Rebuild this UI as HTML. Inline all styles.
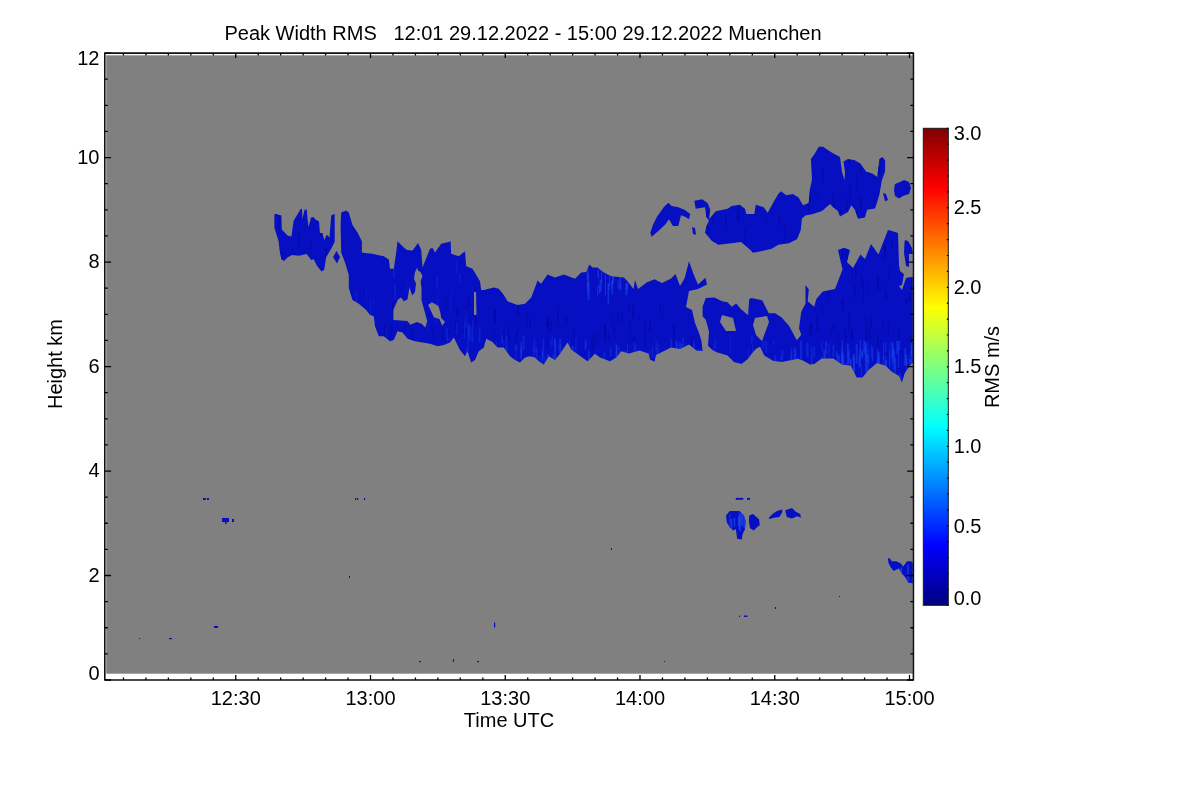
<!DOCTYPE html>
<html><head><meta charset="utf-8"><title>Peak Width RMS</title>
<style>html,body{margin:0;padding:0;background:#fff;width:1200px;height:800px;overflow:hidden}svg{display:block;will-change:transform}</style>
</head><body><svg width="1200" height="800" viewBox="0 0 1200 800"><rect x="106.2" y="55.3" width="806.5999999999999" height="618.4000000000001" fill="#808080"/><g fill="#0610c2"><path fill-rule="evenodd" d="M274.4,214.6L275.7,213.7L281.4,215.5L281.8,229.5L287.5,235.6L291.4,236.5L293.6,220.7L298.9,212.0L300.6,208.9L302.0,208.9L302.4,219.0L304.6,209.8L306.7,209.4L307.6,219.0L308.5,226.9L311.1,217.2L313.7,217.2L315.5,219.4L319.0,221.6L319.9,233.0L322.5,233.0L324.2,240.0L326.9,234.7L329.5,237.4L331.2,215.5L334.7,213.7L334.7,241.7L331.2,248.7L326.0,257.5L324.2,269.7L321.6,271.5L317.2,266.2L313.7,259.2L311.1,260.1L306.7,254.0L298.9,255.7L291.9,254.9L287.5,257.5L284.0,261.0L281.4,259.2L279.6,250.5L278.7,241.7L274.4,227.7ZM336.5,251.0L340.0,257.0L337.0,263.6L333.0,257.0ZM341.2,212.5L346.2,210.6L348.8,212.5L352.5,225.0L357.5,232.5L361.9,241.2L361.9,252.5L365.0,253.0L372.5,253.8L377.5,255.0L383.8,256.2L388.8,259.4L390.0,268.8L393.8,268.8L396.2,252.5L397.5,241.2L403.8,247.5L406.9,250.0L412.5,250.6L418.1,243.1L421.2,250.0L422.5,267.5L425.0,261.2L430.0,248.8L432.5,248.0L435.0,252.5L441.2,243.8L448.8,241.9L450.6,241.2L451.2,253.8L458.8,256.2L465.0,251.2L466.2,266.2L472.5,268.8L480.0,281.2L481.2,290.0L483.8,290.0L493.8,287.5L498.8,288.8L503.8,295.0L507.5,301.2L517.5,305.0L525.0,303.8L531.2,297.5L535.0,287.5L537.5,280.6L541.2,283.8L547.5,274.4L555.0,277.5L563.8,274.4L575.0,278.8L581.2,272.5L586.2,271.9L589.4,264.4L592.5,267.5L597.5,267.5L603.8,272.5L611.2,276.2L623.8,277.5L627.5,281.2L633.5,289.0L635.0,280.0L638.0,289.0L647.0,282.2L654.5,279.2L662.0,283.0L671.0,278.5L675.5,274.0L680.0,286.0L684.5,278.5L689.0,261.2L693.5,274.0L698.0,284.5L705.5,277.8L707.0,284.5L698.0,289.0L689.0,291.0L686.0,307.0L692.0,310.0L695.0,323.0L699.3,333.8L701.5,341.3L702.6,351.0L696.5,350.5L689.0,344.5L680.0,349.0L671.0,347.5L662.0,352.0L656.0,355.0L654.5,361.8L650.0,359.5L648.5,353.5L639.5,350.5L629.0,353.5L621.2,351.2L616.2,357.5L610.0,361.2L600.0,357.5L595.0,353.8L587.5,361.2L578.8,355.0L571.2,349.4L567.5,342.5L560.0,353.8L555.0,360.0L548.8,356.2L543.8,364.4L538.8,361.2L535.0,357.5L530.0,356.2L525.0,357.5L520.0,362.5L515.0,360.0L510.0,356.2L503.8,347.5L497.5,347.5L492.5,341.9L486.2,338.8L483.8,347.5L478.8,351.2L475.0,360.0L471.2,362.5L467.5,351.2L465.0,356.2L460.0,350.0L453.8,337.5L450.0,342.5L443.8,345.0L437.5,346.2L430.0,343.8L415.0,341.2L407.5,338.8L402.5,332.5L397.5,331.2L393.8,340.0L390.0,341.2L383.8,336.2L378.8,336.2L375.0,326.2L373.8,316.2L370.0,315.0L366.2,310.0L358.8,303.8L352.5,300.0L349.4,290.0L348.8,287.5L348.8,275.0L345.0,262.5L341.2,252.5L340.6,225.0ZM417.3,267.5L415.0,272.2L414.0,278.8L416.0,283.4L415.0,291.9L412.2,295.6L409.4,287.2L407.5,299.4L403.8,301.2L401.0,297.5L398.0,299.4L393.4,309.7L393.4,320.0L407.5,321.0L410.3,324.7L416.9,321.9L421.5,323.8L425.3,327.5L427.2,321.0L424.4,310.6L421.5,300.3L421.5,288.1L420.6,281.6L422.5,276.0L420.6,272.2L417.8,270.3ZM431.9,302.2L438.4,306.0L440.3,312.5L441.2,318.1L445.0,321.9L442.2,325.6L439.4,319.0L433.8,317.2L430.0,308.8L428.1,305.0ZM474.0,292.0L476.0,292.0L476.5,315.0L474.0,315.0ZM702.6,306.7L705.8,298.0L714.5,297.5L722.1,301.2L727.5,302.3L731.8,306.7L736.2,303.4L740.5,308.8L748.1,315.3L749.2,299.1L751.3,298.0L762.2,300.2L768.7,313.2L775.2,313.2L781.7,317.5L789.3,326.2L796.8,340.2L801.2,334.8L799.0,328.3L801.2,312.1L805.5,303.4L805.5,285.0L808.8,289.3L807.7,301.2L814.2,306.7L816.3,299.1L822.8,291.5L835.0,289.0L842.5,269.5L838.0,250.0L844.0,247.8L850.0,250.0L847.0,262.0L853.0,268.0L860.5,254.5L865.0,259.0L871.0,244.0L878.5,254.5L888.0,230.0L892.0,231.0L898.0,233.0L899.0,265.0L900.0,271.0L904.0,274.0L902.0,285.0L899.0,286.0L902.0,290.0L906.0,278.0L911.0,277.0L912.8,277.0L912.8,363.0L910.6,364.4L904.8,373.0L901.9,382.6L899.0,376.0L891.7,371.7L885.8,365.8L877.0,363.0L868.3,370.2L862.5,377.5L856.7,377.5L850.8,365.8L842.0,364.4L833.3,358.5L821.7,358.5L814.2,364.0L810.0,364.4L803.3,360.8L798.0,358.7L781.7,361.9L773.0,360.8L764.3,355.4L760.0,346.8L755.7,348.9L751.3,354.3L748.1,358.7L741.6,364.1L734.0,361.9L727.5,355.4L716.7,352.2L712.3,350.0L708.0,345.7L709.0,331.6L705.8,319.7L702.6,316.4ZM722.0,315.0L733.0,318.0L736.0,331.0L726.0,331.0L720.0,322.0ZM755.0,318.0L767.0,316.0L769.0,322.0L762.0,341.0L756.0,335.0L753.0,325.0ZM694.3,200.7L702.3,199.3L707.7,203.3L710.3,210.0L709.0,219.3L715.7,211.3L727.7,208.7L731.7,206.0L739.7,204.7L745.0,208.7L746.3,214.0L754.3,214.0L755.7,204.7L763.7,207.3L767.7,212.7L774.3,200.7L778.3,194.0L781.0,191.3L786.3,195.3L792.9,194.0L798.5,197.4L803.0,205.2L808.6,203.0L809.7,190.6L812.0,179.4L810.9,159.0L814.2,154.6L818.8,146.8L823.2,146.8L827.8,150.1L833.4,153.5L840.0,156.9L842.0,172.0L844.5,180.0L845.0,172.0L843.5,161.4L848.0,159.1L854.8,160.2L860.4,163.6L866.0,171.5L872.8,173.8L877.2,177.1L879.5,159.1L882.3,156.9L885.1,160.2L885.1,171.5L881.8,180.5L879.5,194.0L877.2,201.9L875.0,208.6L867.1,209.8L864.9,217.6L858.1,218.8L854.8,209.8L851.4,205.2L848.0,212.0L840.0,216.5L837.9,210.9L833.4,207.5L830.0,204.1L822.1,210.9L812.0,214.2L805.2,215.4L801.9,218.8L800.8,230.0L797.0,239.3L789.0,243.3L778.3,244.7L771.7,248.7L761.0,251.3L753.0,252.7L749.0,248.7L741.0,242.0L731.7,243.3L718.3,244.7L711.7,240.7L705.0,232.7L706.3,226.0L709.0,220.7L706.3,216.7L705.0,207.3L695.7,208.7ZM650.3,232.7L653.0,224.7L657.0,216.7L663.7,207.3L668.3,202.7L671.7,206.0L678.3,207.3L685.0,210.0L690.3,214.0L689.0,219.3L685.0,216.7L681.0,215.3L678.3,226.0L673.0,226.0L669.0,219.3L665.0,224.7L658.3,231.0L651.7,236.7ZM904.5,242.0L905.0,240.0L908.0,241.0L912.0,248.0L912.8,254.0L909.0,254.0L909.0,267.0L906.0,266.0L904.0,253.0ZM692.0,227.0L695.0,228.0L696.0,234.7L693.0,234.0ZM883.0,193.0L886.0,194.0L888.0,200.0L885.0,201.3ZM895.0,184.0L900.0,182.0L904.0,180.0L909.0,182.0L911.0,188.0L909.0,194.0L903.0,196.0L899.0,198.5L895.0,196.0L894.0,190.0ZM726.0,515.5L729.8,511.0L739.5,511.0L744.0,515.5L745.9,521.5L744.8,529.8L742.5,534.2L741.8,539.5L737.2,538.8L735.8,529.0L733.5,530.5L729.8,527.5L726.8,522.2ZM749.2,515.5L753.0,514.0L759.0,519.2L759.8,525.2L757.5,526.8L753.8,530.5L750.0,528.2L748.9,521.5ZM768.8,517.8L772.5,514.0L777.0,511.0L782.2,509.5L782.2,512.5L779.2,517.0L774.0,517.8L769.5,518.9ZM785.2,510.2L792.0,508.0L795.8,511.8L800.2,514.0L801.0,517.8L797.2,516.2L792.0,518.5L786.8,517.0ZM887.9,558.5L889.6,558.2L891.9,561.3L896.4,561.3L900.9,563.6L903.1,566.4L907.1,561.3L911.0,561.3L912.8,563.0L912.8,583.2L908.2,582.7L905.4,577.6L902.0,573.7L898.6,568.6L893.6,570.9L890.8,567.5L888.5,563.0Z"/><rect x="203" y="498" width="3" height="2"/><rect x="207" y="498" width="2" height="2"/><rect x="222" y="518" width="7" height="4"/><rect x="232" y="519" width="2" height="3"/><rect x="225" y="522" width="1.5" height="2"/><rect x="139" y="638" width="1" height="1"/><rect x="169" y="638" width="3" height="1.2"/><rect x="214" y="626" width="4" height="2"/><rect x="355" y="498" width="1.2" height="2"/><rect x="357" y="498" width="1.2" height="2"/><rect x="364" y="498" width="1.2" height="2"/><rect x="349" y="576" width="1" height="2"/><rect x="494" y="622.5" width="1.2" height="5"/><rect x="419" y="661" width="2" height="1.2"/><rect x="453" y="659" width="1" height="3"/><rect x="477" y="661" width="2" height="1.2"/><rect x="611" y="548" width="1" height="2"/><rect x="664" y="661" width="1" height="1"/><rect x="739" y="615.5" width="1" height="1.5"/><rect x="744" y="615.5" width="3.5" height="1.5"/><rect x="775" y="607" width="1" height="2"/><rect x="839" y="596" width="1" height="1"/><rect x="735.75" y="497.9" width="7.5" height="1.9"/><rect x="747" y="497.9" width="3" height="1.9"/></g><defs><clipPath id="bc"><path clip-rule="evenodd" d="M274.4,214.6L275.7,213.7L281.4,215.5L281.8,229.5L287.5,235.6L291.4,236.5L293.6,220.7L298.9,212.0L300.6,208.9L302.0,208.9L302.4,219.0L304.6,209.8L306.7,209.4L307.6,219.0L308.5,226.9L311.1,217.2L313.7,217.2L315.5,219.4L319.0,221.6L319.9,233.0L322.5,233.0L324.2,240.0L326.9,234.7L329.5,237.4L331.2,215.5L334.7,213.7L334.7,241.7L331.2,248.7L326.0,257.5L324.2,269.7L321.6,271.5L317.2,266.2L313.7,259.2L311.1,260.1L306.7,254.0L298.9,255.7L291.9,254.9L287.5,257.5L284.0,261.0L281.4,259.2L279.6,250.5L278.7,241.7L274.4,227.7ZM336.5,251.0L340.0,257.0L337.0,263.6L333.0,257.0ZM341.2,212.5L346.2,210.6L348.8,212.5L352.5,225.0L357.5,232.5L361.9,241.2L361.9,252.5L365.0,253.0L372.5,253.8L377.5,255.0L383.8,256.2L388.8,259.4L390.0,268.8L393.8,268.8L396.2,252.5L397.5,241.2L403.8,247.5L406.9,250.0L412.5,250.6L418.1,243.1L421.2,250.0L422.5,267.5L425.0,261.2L430.0,248.8L432.5,248.0L435.0,252.5L441.2,243.8L448.8,241.9L450.6,241.2L451.2,253.8L458.8,256.2L465.0,251.2L466.2,266.2L472.5,268.8L480.0,281.2L481.2,290.0L483.8,290.0L493.8,287.5L498.8,288.8L503.8,295.0L507.5,301.2L517.5,305.0L525.0,303.8L531.2,297.5L535.0,287.5L537.5,280.6L541.2,283.8L547.5,274.4L555.0,277.5L563.8,274.4L575.0,278.8L581.2,272.5L586.2,271.9L589.4,264.4L592.5,267.5L597.5,267.5L603.8,272.5L611.2,276.2L623.8,277.5L627.5,281.2L633.5,289.0L635.0,280.0L638.0,289.0L647.0,282.2L654.5,279.2L662.0,283.0L671.0,278.5L675.5,274.0L680.0,286.0L684.5,278.5L689.0,261.2L693.5,274.0L698.0,284.5L705.5,277.8L707.0,284.5L698.0,289.0L689.0,291.0L686.0,307.0L692.0,310.0L695.0,323.0L699.3,333.8L701.5,341.3L702.6,351.0L696.5,350.5L689.0,344.5L680.0,349.0L671.0,347.5L662.0,352.0L656.0,355.0L654.5,361.8L650.0,359.5L648.5,353.5L639.5,350.5L629.0,353.5L621.2,351.2L616.2,357.5L610.0,361.2L600.0,357.5L595.0,353.8L587.5,361.2L578.8,355.0L571.2,349.4L567.5,342.5L560.0,353.8L555.0,360.0L548.8,356.2L543.8,364.4L538.8,361.2L535.0,357.5L530.0,356.2L525.0,357.5L520.0,362.5L515.0,360.0L510.0,356.2L503.8,347.5L497.5,347.5L492.5,341.9L486.2,338.8L483.8,347.5L478.8,351.2L475.0,360.0L471.2,362.5L467.5,351.2L465.0,356.2L460.0,350.0L453.8,337.5L450.0,342.5L443.8,345.0L437.5,346.2L430.0,343.8L415.0,341.2L407.5,338.8L402.5,332.5L397.5,331.2L393.8,340.0L390.0,341.2L383.8,336.2L378.8,336.2L375.0,326.2L373.8,316.2L370.0,315.0L366.2,310.0L358.8,303.8L352.5,300.0L349.4,290.0L348.8,287.5L348.8,275.0L345.0,262.5L341.2,252.5L340.6,225.0ZM417.3,267.5L415.0,272.2L414.0,278.8L416.0,283.4L415.0,291.9L412.2,295.6L409.4,287.2L407.5,299.4L403.8,301.2L401.0,297.5L398.0,299.4L393.4,309.7L393.4,320.0L407.5,321.0L410.3,324.7L416.9,321.9L421.5,323.8L425.3,327.5L427.2,321.0L424.4,310.6L421.5,300.3L421.5,288.1L420.6,281.6L422.5,276.0L420.6,272.2L417.8,270.3ZM431.9,302.2L438.4,306.0L440.3,312.5L441.2,318.1L445.0,321.9L442.2,325.6L439.4,319.0L433.8,317.2L430.0,308.8L428.1,305.0ZM474.0,292.0L476.0,292.0L476.5,315.0L474.0,315.0ZM702.6,306.7L705.8,298.0L714.5,297.5L722.1,301.2L727.5,302.3L731.8,306.7L736.2,303.4L740.5,308.8L748.1,315.3L749.2,299.1L751.3,298.0L762.2,300.2L768.7,313.2L775.2,313.2L781.7,317.5L789.3,326.2L796.8,340.2L801.2,334.8L799.0,328.3L801.2,312.1L805.5,303.4L805.5,285.0L808.8,289.3L807.7,301.2L814.2,306.7L816.3,299.1L822.8,291.5L835.0,289.0L842.5,269.5L838.0,250.0L844.0,247.8L850.0,250.0L847.0,262.0L853.0,268.0L860.5,254.5L865.0,259.0L871.0,244.0L878.5,254.5L888.0,230.0L892.0,231.0L898.0,233.0L899.0,265.0L900.0,271.0L904.0,274.0L902.0,285.0L899.0,286.0L902.0,290.0L906.0,278.0L911.0,277.0L912.8,277.0L912.8,363.0L910.6,364.4L904.8,373.0L901.9,382.6L899.0,376.0L891.7,371.7L885.8,365.8L877.0,363.0L868.3,370.2L862.5,377.5L856.7,377.5L850.8,365.8L842.0,364.4L833.3,358.5L821.7,358.5L814.2,364.0L810.0,364.4L803.3,360.8L798.0,358.7L781.7,361.9L773.0,360.8L764.3,355.4L760.0,346.8L755.7,348.9L751.3,354.3L748.1,358.7L741.6,364.1L734.0,361.9L727.5,355.4L716.7,352.2L712.3,350.0L708.0,345.7L709.0,331.6L705.8,319.7L702.6,316.4ZM722.0,315.0L733.0,318.0L736.0,331.0L726.0,331.0L720.0,322.0ZM755.0,318.0L767.0,316.0L769.0,322.0L762.0,341.0L756.0,335.0L753.0,325.0ZM694.3,200.7L702.3,199.3L707.7,203.3L710.3,210.0L709.0,219.3L715.7,211.3L727.7,208.7L731.7,206.0L739.7,204.7L745.0,208.7L746.3,214.0L754.3,214.0L755.7,204.7L763.7,207.3L767.7,212.7L774.3,200.7L778.3,194.0L781.0,191.3L786.3,195.3L792.9,194.0L798.5,197.4L803.0,205.2L808.6,203.0L809.7,190.6L812.0,179.4L810.9,159.0L814.2,154.6L818.8,146.8L823.2,146.8L827.8,150.1L833.4,153.5L840.0,156.9L842.0,172.0L844.5,180.0L845.0,172.0L843.5,161.4L848.0,159.1L854.8,160.2L860.4,163.6L866.0,171.5L872.8,173.8L877.2,177.1L879.5,159.1L882.3,156.9L885.1,160.2L885.1,171.5L881.8,180.5L879.5,194.0L877.2,201.9L875.0,208.6L867.1,209.8L864.9,217.6L858.1,218.8L854.8,209.8L851.4,205.2L848.0,212.0L840.0,216.5L837.9,210.9L833.4,207.5L830.0,204.1L822.1,210.9L812.0,214.2L805.2,215.4L801.9,218.8L800.8,230.0L797.0,239.3L789.0,243.3L778.3,244.7L771.7,248.7L761.0,251.3L753.0,252.7L749.0,248.7L741.0,242.0L731.7,243.3L718.3,244.7L711.7,240.7L705.0,232.7L706.3,226.0L709.0,220.7L706.3,216.7L705.0,207.3L695.7,208.7ZM650.3,232.7L653.0,224.7L657.0,216.7L663.7,207.3L668.3,202.7L671.7,206.0L678.3,207.3L685.0,210.0L690.3,214.0L689.0,219.3L685.0,216.7L681.0,215.3L678.3,226.0L673.0,226.0L669.0,219.3L665.0,224.7L658.3,231.0L651.7,236.7ZM904.5,242.0L905.0,240.0L908.0,241.0L912.0,248.0L912.8,254.0L909.0,254.0L909.0,267.0L906.0,266.0L904.0,253.0ZM692.0,227.0L695.0,228.0L696.0,234.7L693.0,234.0ZM883.0,193.0L886.0,194.0L888.0,200.0L885.0,201.3ZM895.0,184.0L900.0,182.0L904.0,180.0L909.0,182.0L911.0,188.0L909.0,194.0L903.0,196.0L899.0,198.5L895.0,196.0L894.0,190.0ZM726.0,515.5L729.8,511.0L739.5,511.0L744.0,515.5L745.9,521.5L744.8,529.8L742.5,534.2L741.8,539.5L737.2,538.8L735.8,529.0L733.5,530.5L729.8,527.5L726.8,522.2ZM749.2,515.5L753.0,514.0L759.0,519.2L759.8,525.2L757.5,526.8L753.8,530.5L750.0,528.2L748.9,521.5ZM768.8,517.8L772.5,514.0L777.0,511.0L782.2,509.5L782.2,512.5L779.2,517.0L774.0,517.8L769.5,518.9ZM785.2,510.2L792.0,508.0L795.8,511.8L800.2,514.0L801.0,517.8L797.2,516.2L792.0,518.5L786.8,517.0ZM887.9,558.5L889.6,558.2L891.9,561.3L896.4,561.3L900.9,563.6L903.1,566.4L907.1,561.3L911.0,561.3L912.8,563.0L912.8,583.2L908.2,582.7L905.4,577.6L902.0,573.7L898.6,568.6L893.6,570.9L890.8,567.5L888.5,563.0Z"/></clipPath></defs><g clip-path="url(#bc)"><rect x="756.3" y="181.0" width="2" height="11.7" fill="#00008a" fill-opacity="0.35"/><rect x="876.4" y="223.3" width="2" height="16.6" fill="#00008a" fill-opacity="0.35"/><rect x="706.4" y="211.6" width="1.5" height="6.9" fill="#00008a" fill-opacity="0.35"/><rect x="779.4" y="154.8" width="1.5" height="9.7" fill="#00008a" fill-opacity="0.35"/><rect x="743.2" y="152.2" width="1" height="13.5" fill="#00008a" fill-opacity="0.35"/><rect x="807.8" y="202.3" width="2" height="8.9" fill="#00008a" fill-opacity="0.35"/><rect x="742.6" y="208.9" width="1" height="12.6" fill="#00008a" fill-opacity="0.35"/><rect x="769.6" y="165.9" width="1" height="15.8" fill="#00008a" fill-opacity="0.35"/><rect x="878.0" y="164.9" width="1" height="8.2" fill="#00008a" fill-opacity="0.35"/><rect x="712.1" y="216.5" width="1.5" height="6.9" fill="#00008a" fill-opacity="0.35"/><rect x="776.4" y="151.1" width="2" height="8.4" fill="#00008a" fill-opacity="0.35"/><rect x="856.0" y="209.5" width="2" height="16.6" fill="#00008a" fill-opacity="0.35"/><rect x="784.3" y="223.4" width="1" height="17.2" fill="#00008a" fill-opacity="0.35"/><rect x="731.4" y="156.2" width="1" height="5.0" fill="#00008a" fill-opacity="0.35"/><rect x="777.1" y="155.8" width="1" height="8.1" fill="#00008a" fill-opacity="0.35"/><rect x="702.3" y="244.1" width="1" height="12.2" fill="#00008a" fill-opacity="0.35"/><rect x="778.5" y="214.3" width="2" height="11.7" fill="#00008a" fill-opacity="0.35"/><rect x="821.9" y="167.5" width="1.5" height="15.6" fill="#00008a" fill-opacity="0.35"/><rect x="712.1" y="249.4" width="2" height="13.1" fill="#00008a" fill-opacity="0.35"/><rect x="848.8" y="150.6" width="1.5" height="14.3" fill="#00008a" fill-opacity="0.35"/><rect x="841.6" y="224.2" width="1.5" height="11.0" fill="#00008a" fill-opacity="0.35"/><rect x="733.3" y="176.1" width="2" height="18.0" fill="#00008a" fill-opacity="0.35"/><rect x="707.4" y="225.0" width="2" height="9.4" fill="#00008a" fill-opacity="0.35"/><rect x="879.1" y="155.3" width="2" height="8.4" fill="#00008a" fill-opacity="0.35"/><rect x="805.2" y="228.8" width="2" height="10.7" fill="#00008a" fill-opacity="0.35"/><rect x="884.7" y="242.9" width="1" height="8.8" fill="#00008a" fill-opacity="0.35"/><rect x="716.2" y="167.0" width="1" height="11.6" fill="#00008a" fill-opacity="0.35"/><rect x="859.9" y="165.9" width="1.5" height="7.6" fill="#00008a" fill-opacity="0.35"/><rect x="736.5" y="210.1" width="1.5" height="10.1" fill="#00008a" fill-opacity="0.35"/><rect x="872.4" y="219.3" width="2" height="13.2" fill="#00008a" fill-opacity="0.35"/><rect x="859.9" y="197.2" width="2" height="12.0" fill="#00008a" fill-opacity="0.35"/><rect x="832.5" y="193.7" width="2" height="16.1" fill="#00008a" fill-opacity="0.35"/><rect x="744.4" y="228.9" width="1.5" height="16.5" fill="#00008a" fill-opacity="0.35"/><rect x="818.3" y="241.1" width="1" height="6.0" fill="#00008a" fill-opacity="0.35"/><rect x="706.3" y="212.2" width="1" height="6.5" fill="#00008a" fill-opacity="0.35"/><rect x="765.5" y="152.9" width="1" height="6.8" fill="#00008a" fill-opacity="0.35"/><rect x="726.3" y="154.3" width="1" height="13.4" fill="#00008a" fill-opacity="0.35"/><rect x="840.0" y="209.0" width="1.5" height="5.9" fill="#00008a" fill-opacity="0.35"/><rect x="737.9" y="203.4" width="2" height="17.4" fill="#00008a" fill-opacity="0.35"/><rect x="712.5" y="241.4" width="1.5" height="16.3" fill="#00008a" fill-opacity="0.35"/><rect x="720.4" y="161.2" width="1" height="7.7" fill="#00008a" fill-opacity="0.35"/><rect x="880.4" y="225.4" width="1" height="16.8" fill="#00008a" fill-opacity="0.35"/><rect x="856.8" y="178.7" width="1" height="13.2" fill="#00008a" fill-opacity="0.35"/><rect x="725.2" y="214.6" width="1.5" height="15.3" fill="#00008a" fill-opacity="0.35"/><rect x="760.6" y="152.1" width="1.5" height="10.5" fill="#00008a" fill-opacity="0.35"/><rect x="876.7" y="226.0" width="1.5" height="5.6" fill="#00008a" fill-opacity="0.35"/><rect x="846.2" y="197.6" width="1.5" height="12.8" fill="#00008a" fill-opacity="0.35"/><rect x="817.5" y="191.3" width="1.5" height="5.4" fill="#00008a" fill-opacity="0.35"/><rect x="798.5" y="196.9" width="1" height="6.3" fill="#00008a" fill-opacity="0.35"/><rect x="802.2" y="236.2" width="1" height="7.8" fill="#00008a" fill-opacity="0.35"/><rect x="809.2" y="193.6" width="2" height="8.7" fill="#00008a" fill-opacity="0.35"/><rect x="738.4" y="247.8" width="1" height="14.9" fill="#00008a" fill-opacity="0.35"/><rect x="766.1" y="219.5" width="1" height="6.2" fill="#00008a" fill-opacity="0.35"/><rect x="883.8" y="245.7" width="2" height="12.7" fill="#00008a" fill-opacity="0.35"/><rect x="749.5" y="178.4" width="1" height="17.3" fill="#00008a" fill-opacity="0.35"/><rect x="878.3" y="166.6" width="2" height="8.0" fill="#00008a" fill-opacity="0.35"/><rect x="845.7" y="249.1" width="2" height="11.4" fill="#00008a" fill-opacity="0.35"/><rect x="849.5" y="185.6" width="1.5" height="13.2" fill="#00008a" fill-opacity="0.35"/><rect x="876.4" y="224.5" width="1.5" height="16.6" fill="#00008a" fill-opacity="0.35"/><rect x="868.8" y="170.6" width="1.5" height="5.3" fill="#00008a" fill-opacity="0.35"/><rect x="517.0" y="302.7" width="2" height="12.1" fill="#00008a" fill-opacity="0.35"/><rect x="454.7" y="318.9" width="2" height="11.0" fill="#00008a" fill-opacity="0.35"/><rect x="621.0" y="310.7" width="1.5" height="13.4" fill="#00008a" fill-opacity="0.35"/><rect x="547.0" y="315.3" width="2" height="16.3" fill="#00008a" fill-opacity="0.35"/><rect x="617.4" y="314.7" width="1.5" height="7.2" fill="#00008a" fill-opacity="0.35"/><rect x="565.3" y="315.8" width="2" height="6.6" fill="#00008a" fill-opacity="0.35"/><rect x="456.1" y="308.6" width="2" height="7.5" fill="#00008a" fill-opacity="0.35"/><rect x="644.5" y="327.6" width="1" height="13.0" fill="#00008a" fill-opacity="0.35"/><rect x="611.4" y="310.7" width="1" height="12.8" fill="#00008a" fill-opacity="0.35"/><rect x="485.0" y="338.9" width="2" height="7.5" fill="#00008a" fill-opacity="0.35"/><rect x="698.4" y="324.6" width="1" height="7.1" fill="#00008a" fill-opacity="0.35"/><rect x="503.0" y="330.8" width="2" height="17.8" fill="#00008a" fill-opacity="0.35"/><rect x="475.2" y="299.9" width="1" height="8.6" fill="#00008a" fill-opacity="0.35"/><rect x="469.9" y="315.9" width="1" height="16.5" fill="#00008a" fill-opacity="0.35"/><rect x="507.7" y="326.2" width="2" height="15.3" fill="#00008a" fill-opacity="0.35"/><rect x="693.9" y="296.0" width="1.5" height="8.9" fill="#00008a" fill-opacity="0.35"/><rect x="573.2" y="328.3" width="1.5" height="10.3" fill="#00008a" fill-opacity="0.35"/><rect x="604.4" y="324.1" width="1" height="12.6" fill="#00008a" fill-opacity="0.35"/><rect x="593.7" y="334.5" width="2" height="13.5" fill="#00008a" fill-opacity="0.35"/><rect x="604.0" y="325.6" width="2" height="16.1" fill="#00008a" fill-opacity="0.35"/><rect x="419.7" y="306.7" width="2" height="10.6" fill="#00008a" fill-opacity="0.35"/><rect x="411.3" y="330.2" width="2" height="10.5" fill="#00008a" fill-opacity="0.35"/><rect x="608.0" y="333.2" width="1.5" height="7.0" fill="#00008a" fill-opacity="0.35"/><rect x="525.7" y="313.4" width="2" height="13.1" fill="#00008a" fill-opacity="0.35"/><rect x="591.6" y="335.3" width="1.5" height="16.3" fill="#00008a" fill-opacity="0.35"/><rect x="629.0" y="317.0" width="1" height="10.1" fill="#00008a" fill-opacity="0.35"/><rect x="392.2" y="302.2" width="1" height="12.1" fill="#00008a" fill-opacity="0.35"/><rect x="546.2" y="320.9" width="2" height="6.3" fill="#00008a" fill-opacity="0.35"/><rect x="445.6" y="295.7" width="1.5" height="11.2" fill="#00008a" fill-opacity="0.35"/><rect x="546.9" y="337.7" width="1" height="10.3" fill="#00008a" fill-opacity="0.35"/><rect x="696.9" y="318.1" width="1" height="7.4" fill="#00008a" fill-opacity="0.35"/><rect x="613.3" y="323.7" width="1.5" height="13.0" fill="#00008a" fill-opacity="0.35"/><rect x="467.8" y="295.6" width="1.5" height="10.2" fill="#00008a" fill-opacity="0.35"/><rect x="672.9" y="325.4" width="2" height="13.2" fill="#00008a" fill-opacity="0.35"/><rect x="464.9" y="328.4" width="2" height="7.9" fill="#00008a" fill-opacity="0.35"/><rect x="690.9" y="338.2" width="1.5" height="17.9" fill="#00008a" fill-opacity="0.35"/><rect x="447.8" y="329.9" width="2" height="6.7" fill="#00008a" fill-opacity="0.35"/><rect x="441.8" y="327.4" width="1" height="13.3" fill="#00008a" fill-opacity="0.35"/><rect x="493.0" y="331.8" width="1.5" height="13.3" fill="#00008a" fill-opacity="0.35"/><rect x="529.8" y="319.7" width="1" height="8.8" fill="#00008a" fill-opacity="0.35"/><rect x="629.6" y="330.3" width="1" height="11.1" fill="#00008a" fill-opacity="0.35"/><rect x="465.6" y="306.4" width="1.5" height="9.9" fill="#00008a" fill-opacity="0.35"/><rect x="597.2" y="331.2" width="1.5" height="11.3" fill="#00008a" fill-opacity="0.35"/><rect x="494.6" y="309.4" width="1.5" height="13.5" fill="#00008a" fill-opacity="0.35"/><rect x="517.1" y="324.7" width="1.5" height="13.3" fill="#00008a" fill-opacity="0.35"/><rect x="428.9" y="312.3" width="1" height="8.9" fill="#00008a" fill-opacity="0.35"/><rect x="644.9" y="330.3" width="1" height="16.8" fill="#00008a" fill-opacity="0.35"/><rect x="549.8" y="321.2" width="2" height="9.5" fill="#00008a" fill-opacity="0.35"/><rect x="383.7" y="324.5" width="1.5" height="17.4" fill="#00008a" fill-opacity="0.35"/><rect x="574.6" y="333.4" width="1" height="12.5" fill="#00008a" fill-opacity="0.35"/><rect x="628.4" y="301.9" width="1.5" height="9.5" fill="#00008a" fill-opacity="0.35"/><rect x="633.3" y="335.1" width="2" height="7.2" fill="#00008a" fill-opacity="0.35"/><rect x="692.7" y="335.6" width="2" height="6.2" fill="#00008a" fill-opacity="0.35"/><rect x="632.2" y="303.9" width="2" height="15.9" fill="#00008a" fill-opacity="0.35"/><rect x="448.2" y="332.8" width="2" height="6.0" fill="#00008a" fill-opacity="0.35"/><rect x="662.5" y="306.9" width="1" height="12.2" fill="#00008a" fill-opacity="0.35"/><rect x="644.7" y="320.1" width="1.5" height="11.2" fill="#00008a" fill-opacity="0.35"/><rect x="529.5" y="317.1" width="1.5" height="6.9" fill="#00008a" fill-opacity="0.35"/><rect x="432.7" y="328.1" width="1" height="12.8" fill="#00008a" fill-opacity="0.35"/><rect x="649.0" y="320.3" width="2" height="11.1" fill="#00008a" fill-opacity="0.35"/><rect x="475.0" y="314.2" width="2" height="11.1" fill="#00008a" fill-opacity="0.35"/><rect x="404.1" y="323.6" width="1" height="13.3" fill="#00008a" fill-opacity="0.35"/><rect x="386.6" y="328.1" width="1.5" height="5.6" fill="#00008a" fill-opacity="0.35"/><rect x="638.8" y="316.8" width="1" height="6.2" fill="#00008a" fill-opacity="0.35"/><rect x="390.8" y="323.1" width="1.5" height="14.3" fill="#00008a" fill-opacity="0.35"/><rect x="410.2" y="310.4" width="2" height="13.6" fill="#00008a" fill-opacity="0.35"/><rect x="557.3" y="307.8" width="1.5" height="16.9" fill="#00008a" fill-opacity="0.35"/><rect x="515.2" y="332.2" width="1.5" height="12.2" fill="#00008a" fill-opacity="0.35"/><rect x="493.7" y="310.0" width="1.5" height="11.4" fill="#00008a" fill-opacity="0.35"/><rect x="659.3" y="304.2" width="1.5" height="9.5" fill="#00008a" fill-opacity="0.35"/><rect x="325.4" y="229.0" width="1.5" height="9.3" fill="#00008a" fill-opacity="0.35"/><rect x="278.9" y="215.3" width="1" height="17.6" fill="#00008a" fill-opacity="0.35"/><rect x="297.9" y="234.4" width="2" height="12.2" fill="#00008a" fill-opacity="0.35"/><rect x="273.5" y="210.4" width="1" height="8.9" fill="#00008a" fill-opacity="0.35"/><rect x="327.5" y="256.0" width="1" height="11.2" fill="#00008a" fill-opacity="0.35"/><rect x="325.2" y="246.7" width="2" height="16.8" fill="#00008a" fill-opacity="0.35"/><rect x="280.3" y="251.3" width="2" height="13.8" fill="#00008a" fill-opacity="0.35"/><rect x="275.8" y="248.0" width="2" height="5.5" fill="#00008a" fill-opacity="0.35"/><rect x="323.4" y="220.9" width="1" height="6.3" fill="#00008a" fill-opacity="0.35"/><rect x="299.5" y="265.8" width="1" height="6.3" fill="#00008a" fill-opacity="0.35"/><rect x="295.8" y="257.2" width="2" height="15.7" fill="#00008a" fill-opacity="0.35"/><rect x="319.7" y="221.1" width="1" height="16.2" fill="#00008a" fill-opacity="0.35"/><rect x="292.3" y="248.5" width="1" height="10.6" fill="#00008a" fill-opacity="0.35"/><rect x="304.8" y="259.5" width="1.5" height="11.8" fill="#00008a" fill-opacity="0.35"/><rect x="310.3" y="236.8" width="1" height="16.9" fill="#00008a" fill-opacity="0.35"/><rect x="876.8" y="334.3" width="2" height="12.7" fill="#00008a" fill-opacity="0.35"/><rect x="910.8" y="279.2" width="1" height="11.2" fill="#00008a" fill-opacity="0.35"/><rect x="809.4" y="325.1" width="2" height="11.1" fill="#00008a" fill-opacity="0.35"/><rect x="801.8" y="305.0" width="1" height="5.1" fill="#00008a" fill-opacity="0.35"/><rect x="911.5" y="260.7" width="1" height="16.2" fill="#00008a" fill-opacity="0.35"/><rect x="814.6" y="308.3" width="1" height="5.2" fill="#00008a" fill-opacity="0.35"/><rect x="850.9" y="327.7" width="1.5" height="14.7" fill="#00008a" fill-opacity="0.35"/><rect x="887.5" y="321.3" width="2" height="14.3" fill="#00008a" fill-opacity="0.35"/><rect x="885.8" y="293.0" width="1.5" height="8.8" fill="#00008a" fill-opacity="0.35"/><rect x="852.0" y="264.1" width="1" height="17.1" fill="#00008a" fill-opacity="0.35"/><rect x="881.0" y="241.4" width="2" height="5.1" fill="#00008a" fill-opacity="0.35"/><rect x="877.6" y="277.0" width="1.5" height="13.0" fill="#00008a" fill-opacity="0.35"/><rect x="882.4" y="321.8" width="1.5" height="7.2" fill="#00008a" fill-opacity="0.35"/><rect x="868.8" y="330.1" width="2" height="9.1" fill="#00008a" fill-opacity="0.35"/><rect x="849.6" y="253.8" width="1" height="13.8" fill="#00008a" fill-opacity="0.35"/><rect x="841.0" y="299.8" width="1.5" height="13.4" fill="#00008a" fill-opacity="0.35"/><rect x="853.9" y="283.0" width="1.5" height="15.1" fill="#00008a" fill-opacity="0.35"/><rect x="888.7" y="267.8" width="1" height="12.4" fill="#00008a" fill-opacity="0.35"/><rect x="870.3" y="316.2" width="2" height="13.5" fill="#00008a" fill-opacity="0.35"/><rect x="837.5" y="332.9" width="1" height="12.9" fill="#00008a" fill-opacity="0.35"/><rect x="867.9" y="280.7" width="1" height="9.0" fill="#00008a" fill-opacity="0.35"/><rect x="842.6" y="297.2" width="1" height="13.9" fill="#00008a" fill-opacity="0.35"/><rect x="891.2" y="240.2" width="1.5" height="8.7" fill="#00008a" fill-opacity="0.35"/><rect x="830.3" y="327.5" width="1" height="7.0" fill="#00008a" fill-opacity="0.35"/><rect x="832.6" y="324.6" width="2" height="6.8" fill="#00008a" fill-opacity="0.35"/><rect x="816.6" y="315.7" width="2" height="17.7" fill="#00008a" fill-opacity="0.35"/><rect x="877.4" y="273.0" width="1" height="16.9" fill="#00008a" fill-opacity="0.35"/><rect x="861.0" y="276.3" width="2" height="11.3" fill="#00008a" fill-opacity="0.35"/><rect x="905.3" y="297.7" width="2" height="8.0" fill="#00008a" fill-opacity="0.35"/><rect x="844.7" y="328.0" width="2" height="14.2" fill="#00008a" fill-opacity="0.35"/><rect x="884.9" y="283.7" width="1" height="15.3" fill="#00008a" fill-opacity="0.35"/><rect x="860.6" y="245.9" width="1.5" height="9.6" fill="#00008a" fill-opacity="0.35"/><rect x="865.5" y="324.1" width="2" height="16.7" fill="#00008a" fill-opacity="0.35"/><rect x="836.3" y="259.2" width="1" height="11.6" fill="#00008a" fill-opacity="0.35"/><rect x="821.7" y="306.6" width="1.5" height="7.3" fill="#00008a" fill-opacity="0.35"/><rect x="865.3" y="314.1" width="1" height="9.7" fill="#00008a" fill-opacity="0.35"/><rect x="827.8" y="286.9" width="1" height="17.0" fill="#00008a" fill-opacity="0.35"/><rect x="842.0" y="247.8" width="1.5" height="11.0" fill="#00008a" fill-opacity="0.35"/><rect x="867.5" y="289.3" width="1" height="9.5" fill="#00008a" fill-opacity="0.35"/><rect x="810.6" y="322.7" width="2" height="7.7" fill="#00008a" fill-opacity="0.35"/><rect x="855.0" y="264.9" width="1.5" height="12.4" fill="#00008a" fill-opacity="0.35"/><rect x="848.1" y="312.9" width="2" height="17.3" fill="#00008a" fill-opacity="0.35"/><rect x="908.9" y="243.6" width="1" height="8.3" fill="#00008a" fill-opacity="0.35"/><rect x="912.4" y="242.6" width="1" height="9.9" fill="#00008a" fill-opacity="0.35"/><rect x="863.0" y="283.5" width="1" height="16.3" fill="#00008a" fill-opacity="0.35"/><rect x="897.5" y="327.6" width="2" height="13.3" fill="#00008a" fill-opacity="0.35"/><rect x="908.4" y="293.6" width="2" height="8.3" fill="#00008a" fill-opacity="0.35"/><rect x="810.1" y="288.1" width="1" height="17.0" fill="#00008a" fill-opacity="0.35"/><rect x="850.7" y="331.7" width="2" height="7.1" fill="#00008a" fill-opacity="0.35"/><rect x="825.1" y="264.3" width="1.5" height="5.5" fill="#00008a" fill-opacity="0.35"/><rect x="598.9" y="285.4" width="1" height="8.4" fill="#2a60ff" fill-opacity="0.4"/><rect x="620.3" y="283.6" width="1" height="7.5" fill="#2a60ff" fill-opacity="0.4"/><rect x="586.6" y="267.9" width="1" height="12.9" fill="#2a60ff" fill-opacity="0.4"/><rect x="608.7" y="283.3" width="1" height="6.9" fill="#2a60ff" fill-opacity="0.4"/><rect x="612.1" y="267.6" width="2" height="15.3" fill="#2a60ff" fill-opacity="0.4"/><rect x="587.1" y="282.3" width="1" height="9.5" fill="#2a60ff" fill-opacity="0.4"/><rect x="597.5" y="269.5" width="1.5" height="8.3" fill="#2a60ff" fill-opacity="0.4"/><rect x="609.1" y="268.6" width="1" height="16.9" fill="#2a60ff" fill-opacity="0.4"/><rect x="601.0" y="267.7" width="1" height="14.8" fill="#2a60ff" fill-opacity="0.4"/><rect x="611.6" y="280.4" width="1.5" height="13.9" fill="#2a60ff" fill-opacity="0.4"/><rect x="605.0" y="274.5" width="1" height="20.8" fill="#2a60ff" fill-opacity="0.4"/><rect x="619.2" y="272.2" width="1.5" height="17.2" fill="#2a60ff" fill-opacity="0.4"/><rect x="607.6" y="283.5" width="1.5" height="20.0" fill="#2a60ff" fill-opacity="0.4"/><rect x="611.2" y="281.6" width="1" height="7.2" fill="#2a60ff" fill-opacity="0.4"/><rect x="617.6" y="280.6" width="1" height="8.4" fill="#2a60ff" fill-opacity="0.4"/><rect x="626.4" y="283.0" width="1.5" height="7.2" fill="#2a60ff" fill-opacity="0.4"/><rect x="599.6" y="280.0" width="2" height="11.6" fill="#2a60ff" fill-opacity="0.4"/><rect x="588.0" y="274.2" width="1" height="7.5" fill="#2a60ff" fill-opacity="0.4"/><rect x="587.6" y="282.4" width="2" height="17.2" fill="#2a60ff" fill-opacity="0.4"/><rect x="597.2" y="284.7" width="1" height="12.2" fill="#2a60ff" fill-opacity="0.4"/><rect x="625.4" y="283.2" width="2" height="11.7" fill="#2a60ff" fill-opacity="0.4"/><rect x="587.5" y="269.2" width="1" height="18.3" fill="#2a60ff" fill-opacity="0.4"/><rect x="615.7" y="343.3" width="1" height="20.7" fill="#1e50f8" fill-opacity="0.35"/><rect x="622.9" y="352.3" width="2" height="14.8" fill="#1e50f8" fill-opacity="0.35"/><rect x="681.0" y="344.0" width="1.5" height="10.5" fill="#1e50f8" fill-opacity="0.35"/><rect x="655.6" y="339.8" width="1" height="12.1" fill="#1e50f8" fill-opacity="0.35"/><rect x="584.7" y="340.2" width="2" height="9.7" fill="#1e50f8" fill-opacity="0.35"/><rect x="676.4" y="341.4" width="1" height="8.9" fill="#1e50f8" fill-opacity="0.35"/><rect x="618.7" y="346.9" width="1" height="11.9" fill="#1e50f8" fill-opacity="0.35"/><rect x="656.7" y="347.3" width="1" height="14.2" fill="#1e50f8" fill-opacity="0.35"/><rect x="623.9" y="351.2" width="2" height="19.9" fill="#1e50f8" fill-opacity="0.35"/><rect x="615.7" y="345.0" width="2" height="12.3" fill="#1e50f8" fill-opacity="0.35"/><rect x="568.7" y="339.9" width="1" height="7.1" fill="#1e50f8" fill-opacity="0.35"/><rect x="575.4" y="337.0" width="1" height="15.6" fill="#1e50f8" fill-opacity="0.35"/><rect x="635.1" y="345.1" width="1" height="21.2" fill="#1e50f8" fill-opacity="0.35"/><rect x="682.4" y="337.8" width="1.5" height="15.8" fill="#1e50f8" fill-opacity="0.35"/><rect x="693.8" y="344.1" width="1" height="15.6" fill="#1e50f8" fill-opacity="0.35"/><rect x="678.9" y="342.5" width="2" height="21.9" fill="#1e50f8" fill-opacity="0.35"/><rect x="603.7" y="352.1" width="1.5" height="8.3" fill="#1e50f8" fill-opacity="0.35"/><rect x="627.0" y="344.5" width="1" height="17.1" fill="#1e50f8" fill-opacity="0.35"/><rect x="693.1" y="337.9" width="1" height="14.5" fill="#1e50f8" fill-opacity="0.35"/><rect x="666.1" y="348.9" width="1" height="10.8" fill="#1e50f8" fill-opacity="0.35"/><rect x="657.5" y="343.0" width="1" height="10.2" fill="#1e50f8" fill-opacity="0.35"/><rect x="609.8" y="347.0" width="1.5" height="9.6" fill="#1e50f8" fill-opacity="0.35"/><rect x="649.1" y="350.1" width="1" height="15.8" fill="#1e50f8" fill-opacity="0.35"/><rect x="672.9" y="347.9" width="1" height="19.1" fill="#1e50f8" fill-opacity="0.35"/><rect x="588.0" y="349.7" width="1" height="13.9" fill="#1e50f8" fill-opacity="0.35"/><rect x="670.6" y="338.9" width="1.5" height="13.6" fill="#1e50f8" fill-opacity="0.35"/><rect x="622.6" y="351.3" width="1.5" height="21.0" fill="#1e50f8" fill-opacity="0.35"/><rect x="571.3" y="345.9" width="1.5" height="7.6" fill="#1e50f8" fill-opacity="0.35"/><rect x="588.6" y="352.1" width="1" height="16.0" fill="#1e50f8" fill-opacity="0.35"/><rect x="627.1" y="350.0" width="1" height="16.4" fill="#1e50f8" fill-opacity="0.35"/><rect x="676.9" y="344.0" width="1" height="7.9" fill="#1e50f8" fill-opacity="0.35"/><rect x="626.9" y="352.8" width="1.5" height="8.9" fill="#1e50f8" fill-opacity="0.35"/><rect x="572.1" y="346.9" width="2" height="21.1" fill="#1e50f8" fill-opacity="0.35"/><rect x="616.2" y="346.9" width="1" height="21.1" fill="#1e50f8" fill-opacity="0.35"/><rect x="699.0" y="349.0" width="2" height="6.4" fill="#1e50f8" fill-opacity="0.35"/><rect x="672.9" y="353.9" width="2" height="8.3" fill="#1e50f8" fill-opacity="0.35"/><rect x="652.0" y="346.6" width="1" height="11.6" fill="#1e50f8" fill-opacity="0.35"/><rect x="563.0" y="347.8" width="1" height="18.8" fill="#1e50f8" fill-opacity="0.35"/><rect x="633.7" y="342.2" width="1" height="20.9" fill="#1e50f8" fill-opacity="0.35"/><rect x="675.7" y="340.6" width="1.5" height="9.4" fill="#1e50f8" fill-opacity="0.35"/><rect x="520.1" y="341.5" width="2" height="18.2" fill="#1e50f8" fill-opacity="0.3"/><rect x="546.7" y="353.9" width="2" height="7.0" fill="#1e50f8" fill-opacity="0.3"/><rect x="533.0" y="345.1" width="1" height="19.0" fill="#1e50f8" fill-opacity="0.3"/><rect x="522.5" y="335.4" width="2" height="14.4" fill="#1e50f8" fill-opacity="0.3"/><rect x="542.1" y="351.4" width="1" height="15.7" fill="#1e50f8" fill-opacity="0.3"/><rect x="493.8" y="351.1" width="1" height="13.6" fill="#1e50f8" fill-opacity="0.3"/><rect x="506.1" y="347.1" width="1" height="14.3" fill="#1e50f8" fill-opacity="0.3"/><rect x="550.7" y="339.9" width="1" height="6.9" fill="#1e50f8" fill-opacity="0.3"/><rect x="541.8" y="347.3" width="1" height="14.1" fill="#1e50f8" fill-opacity="0.3"/><rect x="515.5" y="345.7" width="1" height="15.8" fill="#1e50f8" fill-opacity="0.3"/><rect x="535.4" y="346.9" width="2" height="13.2" fill="#1e50f8" fill-opacity="0.3"/><rect x="520.6" y="347.6" width="1.5" height="10.0" fill="#1e50f8" fill-opacity="0.3"/><rect x="553.8" y="338.8" width="2" height="20.3" fill="#1e50f8" fill-opacity="0.3"/><rect x="491.0" y="346.1" width="1" height="7.9" fill="#1e50f8" fill-opacity="0.3"/><rect x="533.7" y="339.8" width="1.5" height="12.9" fill="#1e50f8" fill-opacity="0.3"/><rect x="542.7" y="337.9" width="1.5" height="20.4" fill="#1e50f8" fill-opacity="0.3"/><rect x="491.4" y="353.3" width="1" height="20.1" fill="#1e50f8" fill-opacity="0.3"/><rect x="539.7" y="357.3" width="1" height="7.5" fill="#1e50f8" fill-opacity="0.3"/><rect x="559.2" y="338.1" width="2" height="19.3" fill="#1e50f8" fill-opacity="0.3"/><rect x="559.5" y="344.6" width="1.5" height="12.5" fill="#1e50f8" fill-opacity="0.3"/><rect x="505.5" y="335.4" width="2" height="17.6" fill="#1e50f8" fill-opacity="0.3"/><rect x="515.2" y="343.6" width="1.5" height="6.3" fill="#1e50f8" fill-opacity="0.3"/><rect x="521.0" y="360.1" width="1" height="7.0" fill="#1e50f8" fill-opacity="0.3"/><rect x="557.7" y="341.7" width="1" height="7.7" fill="#1e50f8" fill-opacity="0.3"/><rect x="552.5" y="353.6" width="2" height="8.9" fill="#1e50f8" fill-opacity="0.3"/><rect x="548.0" y="354.5" width="2" height="16.8" fill="#1e50f8" fill-opacity="0.3"/><rect x="491.9" y="345.6" width="1.5" height="20.7" fill="#1e50f8" fill-opacity="0.3"/><rect x="487.2" y="352.6" width="2" height="6.9" fill="#1e50f8" fill-opacity="0.3"/><rect x="551.6" y="335.4" width="1" height="10.3" fill="#1e50f8" fill-opacity="0.3"/><rect x="544.1" y="356.7" width="1" height="7.3" fill="#1e50f8" fill-opacity="0.3"/><rect x="501.2" y="335.3" width="2" height="7.9" fill="#1e50f8" fill-opacity="0.3"/><rect x="554.1" y="338.1" width="1" height="10.3" fill="#1e50f8" fill-opacity="0.3"/><rect x="555.1" y="339.8" width="1" height="21.5" fill="#1e50f8" fill-opacity="0.3"/><rect x="496.1" y="342.2" width="1" height="11.0" fill="#1e50f8" fill-opacity="0.3"/><rect x="503.2" y="338.9" width="1.5" height="14.0" fill="#1e50f8" fill-opacity="0.3"/><rect x="472.1" y="321.1" width="1" height="21.9" fill="#1e50f8" fill-opacity="0.3"/><rect x="469.3" y="326.2" width="2" height="14.8" fill="#1e50f8" fill-opacity="0.3"/><rect x="449.8" y="342.0" width="2" height="13.2" fill="#1e50f8" fill-opacity="0.3"/><rect x="466.3" y="349.0" width="1.5" height="14.7" fill="#1e50f8" fill-opacity="0.3"/><rect x="467.5" y="330.0" width="1" height="21.7" fill="#1e50f8" fill-opacity="0.3"/><rect x="456.2" y="321.9" width="1" height="11.6" fill="#1e50f8" fill-opacity="0.3"/><rect x="440.6" y="348.2" width="2" height="16.0" fill="#1e50f8" fill-opacity="0.3"/><rect x="446.5" y="350.6" width="1.5" height="7.4" fill="#1e50f8" fill-opacity="0.3"/><rect x="464.0" y="321.4" width="1" height="17.1" fill="#1e50f8" fill-opacity="0.3"/><rect x="446.3" y="328.8" width="1.5" height="13.1" fill="#1e50f8" fill-opacity="0.3"/><rect x="478.9" y="328.0" width="1.5" height="14.8" fill="#1e50f8" fill-opacity="0.3"/><rect x="448.7" y="331.9" width="1" height="8.9" fill="#1e50f8" fill-opacity="0.3"/><rect x="872.0" y="347.4" width="1" height="14.0" fill="#1e54ff" fill-opacity="0.4"/><rect x="842.1" y="345.0" width="1" height="19.1" fill="#1e54ff" fill-opacity="0.4"/><rect x="865.7" y="364.3" width="1" height="10.8" fill="#1e54ff" fill-opacity="0.4"/><rect x="880.7" y="367.6" width="2" height="14.5" fill="#1e54ff" fill-opacity="0.4"/><rect x="894.6" y="357.4" width="1.5" height="17.5" fill="#1e54ff" fill-opacity="0.4"/><rect x="891.5" y="341.6" width="2" height="16.3" fill="#1e54ff" fill-opacity="0.4"/><rect x="892.2" y="344.8" width="1" height="19.0" fill="#1e54ff" fill-opacity="0.4"/><rect x="899.5" y="372.4" width="1" height="15.3" fill="#1e54ff" fill-opacity="0.4"/><rect x="841.6" y="365.9" width="1" height="6.7" fill="#1e54ff" fill-opacity="0.4"/><rect x="864.4" y="341.9" width="1" height="13.2" fill="#1e54ff" fill-opacity="0.4"/><rect x="883.8" y="357.4" width="1" height="16.9" fill="#1e54ff" fill-opacity="0.4"/><rect x="870.6" y="377.7" width="1" height="7.1" fill="#1e54ff" fill-opacity="0.4"/><rect x="886.4" y="369.8" width="1.5" height="7.1" fill="#1e54ff" fill-opacity="0.4"/><rect x="898.1" y="348.0" width="1" height="19.5" fill="#1e54ff" fill-opacity="0.4"/><rect x="853.0" y="356.5" width="2" height="16.4" fill="#1e54ff" fill-opacity="0.4"/><rect x="841.0" y="349.7" width="1" height="20.6" fill="#1e54ff" fill-opacity="0.4"/><rect x="883.1" y="342.8" width="1" height="16.3" fill="#1e54ff" fill-opacity="0.4"/><rect x="860.9" y="364.8" width="1" height="16.4" fill="#1e54ff" fill-opacity="0.4"/><rect x="836.0" y="350.9" width="1" height="7.0" fill="#1e54ff" fill-opacity="0.4"/><rect x="889.0" y="350.4" width="1.5" height="16.8" fill="#1e54ff" fill-opacity="0.4"/><rect x="871.2" y="344.4" width="1" height="13.5" fill="#1e54ff" fill-opacity="0.4"/><rect x="859.3" y="359.1" width="1.5" height="7.4" fill="#1e54ff" fill-opacity="0.4"/><rect x="870.8" y="373.3" width="2" height="19.1" fill="#1e54ff" fill-opacity="0.4"/><rect x="912.5" y="374.7" width="1" height="12.2" fill="#1e54ff" fill-opacity="0.4"/><rect x="840.8" y="370.1" width="1.5" height="7.4" fill="#1e54ff" fill-opacity="0.4"/><rect x="909.3" y="372.8" width="1.5" height="8.1" fill="#1e54ff" fill-opacity="0.4"/><rect x="904.2" y="348.2" width="2" height="17.3" fill="#1e54ff" fill-opacity="0.4"/><rect x="865.7" y="377.7" width="2" height="8.5" fill="#1e54ff" fill-opacity="0.4"/><rect x="866.6" y="354.6" width="2" height="17.6" fill="#1e54ff" fill-opacity="0.4"/><rect x="859.7" y="340.1" width="1.5" height="19.4" fill="#1e54ff" fill-opacity="0.4"/><rect x="900.5" y="377.1" width="1" height="7.9" fill="#1e54ff" fill-opacity="0.4"/><rect x="905.3" y="354.4" width="2" height="10.6" fill="#1e54ff" fill-opacity="0.4"/><rect x="865.4" y="342.6" width="2" height="19.9" fill="#1e54ff" fill-opacity="0.4"/><rect x="893.9" y="349.6" width="1" height="19.7" fill="#1e54ff" fill-opacity="0.4"/><rect x="900.1" y="376.2" width="1" height="10.6" fill="#1e54ff" fill-opacity="0.4"/><rect x="910.7" y="351.8" width="1.5" height="13.0" fill="#1e54ff" fill-opacity="0.4"/><rect x="896.2" y="341.1" width="2" height="12.8" fill="#1e54ff" fill-opacity="0.4"/><rect x="906.2" y="358.4" width="1" height="21.1" fill="#1e54ff" fill-opacity="0.4"/><rect x="838.9" y="355.8" width="1" height="17.7" fill="#1e54ff" fill-opacity="0.4"/><rect x="885.3" y="341.9" width="1" height="10.6" fill="#1e54ff" fill-opacity="0.4"/><rect x="848.3" y="350.6" width="1.5" height="12.6" fill="#1e54ff" fill-opacity="0.4"/><rect x="892.6" y="348.6" width="1" height="21.6" fill="#1e54ff" fill-opacity="0.4"/><rect x="858.5" y="354.4" width="1" height="14.9" fill="#1e54ff" fill-opacity="0.4"/><rect x="885.2" y="360.2" width="2" height="7.2" fill="#1e54ff" fill-opacity="0.4"/><rect x="877.9" y="352.4" width="2" height="13.2" fill="#1e54ff" fill-opacity="0.4"/><rect x="868.3" y="348.9" width="1" height="14.8" fill="#1e54ff" fill-opacity="0.4"/><rect x="861.7" y="349.6" width="1.5" height="7.5" fill="#1e54ff" fill-opacity="0.4"/><rect x="898.1" y="340.8" width="2" height="9.2" fill="#1e54ff" fill-opacity="0.4"/><rect x="864.9" y="347.4" width="1.5" height="17.9" fill="#1e54ff" fill-opacity="0.4"/><rect x="861.4" y="351.2" width="1.5" height="7.0" fill="#1e54ff" fill-opacity="0.4"/><rect x="844.8" y="363.3" width="1" height="14.1" fill="#1e54ff" fill-opacity="0.4"/><rect x="842.2" y="353.0" width="2" height="20.3" fill="#1e54ff" fill-opacity="0.4"/><rect x="868.7" y="371.4" width="1" height="11.0" fill="#1e54ff" fill-opacity="0.4"/><rect x="844.9" y="368.7" width="2" height="12.8" fill="#1e54ff" fill-opacity="0.4"/><rect x="910.5" y="342.7" width="2" height="13.8" fill="#1e54ff" fill-opacity="0.4"/><rect x="910.8" y="344.3" width="1" height="10.0" fill="#1e54ff" fill-opacity="0.4"/><rect x="846.9" y="343.6" width="2" height="21.6" fill="#1e54ff" fill-opacity="0.4"/><rect x="841.6" y="340.0" width="1" height="18.4" fill="#1e54ff" fill-opacity="0.4"/><rect x="853.1" y="361.7" width="1.5" height="20.7" fill="#1e54ff" fill-opacity="0.4"/><rect x="910.1" y="359.0" width="2" height="16.0" fill="#1e54ff" fill-opacity="0.4"/><rect x="889.5" y="342.8" width="1" height="7.8" fill="#1e54ff" fill-opacity="0.4"/><rect x="865.3" y="363.6" width="1" height="9.6" fill="#1e54ff" fill-opacity="0.4"/><rect x="876.9" y="349.2" width="1.5" height="21.9" fill="#1e54ff" fill-opacity="0.4"/><rect x="885.3" y="356.1" width="1" height="20.1" fill="#1e54ff" fill-opacity="0.4"/><rect x="877.7" y="356.8" width="1.5" height="6.5" fill="#1e54ff" fill-opacity="0.4"/><rect x="839.3" y="374.9" width="2" height="9.1" fill="#1e54ff" fill-opacity="0.4"/><rect x="841.3" y="356.6" width="1.5" height="9.6" fill="#1e54ff" fill-opacity="0.4"/><rect x="852.7" y="353.8" width="2" height="6.5" fill="#1e54ff" fill-opacity="0.4"/><rect x="863.3" y="340.3" width="1.5" height="12.3" fill="#1e54ff" fill-opacity="0.4"/><rect x="892.7" y="347.6" width="1" height="14.1" fill="#1e54ff" fill-opacity="0.4"/><rect x="859.3" y="347.9" width="1" height="19.1" fill="#1e54ff" fill-opacity="0.4"/><rect x="855.7" y="343.7" width="2" height="20.2" fill="#1e54ff" fill-opacity="0.4"/><rect x="882.6" y="356.4" width="1" height="20.3" fill="#1e54ff" fill-opacity="0.4"/><rect x="909.0" y="355.7" width="1" height="8.3" fill="#1e54ff" fill-opacity="0.4"/><rect x="836.8" y="355.0" width="1" height="15.5" fill="#1e54ff" fill-opacity="0.4"/><rect x="849.4" y="366.6" width="1.5" height="13.2" fill="#1e54ff" fill-opacity="0.4"/><rect x="892.2" y="370.8" width="1.5" height="22.0" fill="#1e54ff" fill-opacity="0.4"/><rect x="849.9" y="358.8" width="2" height="16.4" fill="#1e54ff" fill-opacity="0.4"/><rect x="837.5" y="353.5" width="1.5" height="16.6" fill="#1e54ff" fill-opacity="0.4"/><rect x="911.8" y="344.1" width="1" height="13.1" fill="#1e54ff" fill-opacity="0.4"/><rect x="795.4" y="359.3" width="1" height="11.6" fill="#1e50f8" fill-opacity="0.35"/><rect x="810.9" y="346.4" width="1.5" height="18.1" fill="#1e50f8" fill-opacity="0.35"/><rect x="825.2" y="341.0" width="2" height="12.9" fill="#1e50f8" fill-opacity="0.35"/><rect x="790.8" y="348.3" width="1.5" height="14.7" fill="#1e50f8" fill-opacity="0.35"/><rect x="800.0" y="340.5" width="2" height="20.4" fill="#1e50f8" fill-opacity="0.35"/><rect x="793.6" y="347.3" width="2" height="16.0" fill="#1e50f8" fill-opacity="0.35"/><rect x="781.9" y="360.7" width="1.5" height="7.0" fill="#1e50f8" fill-opacity="0.35"/><rect x="790.7" y="353.6" width="1.5" height="7.0" fill="#1e50f8" fill-opacity="0.35"/><rect x="795.0" y="349.5" width="1.5" height="21.3" fill="#1e50f8" fill-opacity="0.35"/><rect x="821.1" y="356.2" width="1.5" height="17.0" fill="#1e50f8" fill-opacity="0.35"/><rect x="780.2" y="355.5" width="1" height="18.1" fill="#1e50f8" fill-opacity="0.35"/><rect x="781.3" y="350.0" width="2" height="9.7" fill="#1e50f8" fill-opacity="0.35"/><rect x="832.5" y="345.0" width="2" height="12.2" fill="#1e50f8" fill-opacity="0.35"/><rect x="824.8" y="350.9" width="1" height="8.1" fill="#1e50f8" fill-opacity="0.35"/><rect x="824.1" y="354.1" width="1" height="17.8" fill="#1e50f8" fill-opacity="0.35"/><rect x="813.4" y="346.5" width="1.5" height="11.2" fill="#1e50f8" fill-opacity="0.35"/><rect x="823.1" y="349.3" width="2" height="15.5" fill="#1e50f8" fill-opacity="0.35"/><rect x="821.4" y="341.4" width="1" height="10.0" fill="#1e50f8" fill-opacity="0.35"/><rect x="806.5" y="343.0" width="2" height="14.7" fill="#1e50f8" fill-opacity="0.35"/><rect x="828.6" y="344.0" width="1" height="21.8" fill="#1e50f8" fill-opacity="0.35"/><rect x="716.7" y="358.3" width="2" height="12.7" fill="#1e50f8" fill-opacity="0.3"/><rect x="713.9" y="344.3" width="1" height="8.1" fill="#1e50f8" fill-opacity="0.3"/><rect x="759.8" y="346.8" width="1" height="19.6" fill="#1e50f8" fill-opacity="0.3"/><rect x="762.4" y="338.3" width="1.5" height="10.7" fill="#1e50f8" fill-opacity="0.3"/><rect x="729.8" y="335.2" width="1" height="17.8" fill="#1e50f8" fill-opacity="0.3"/><rect x="714.9" y="338.5" width="1" height="9.8" fill="#1e50f8" fill-opacity="0.3"/><rect x="726.1" y="358.6" width="1" height="12.3" fill="#1e50f8" fill-opacity="0.3"/><rect x="752.0" y="344.5" width="1" height="7.6" fill="#1e50f8" fill-opacity="0.3"/><rect x="708.2" y="353.1" width="2" height="13.6" fill="#1e50f8" fill-opacity="0.3"/><rect x="773.2" y="339.3" width="1" height="6.6" fill="#1e50f8" fill-opacity="0.3"/><rect x="704.0" y="352.5" width="1" height="15.6" fill="#1e50f8" fill-opacity="0.3"/><rect x="774.4" y="355.1" width="2" height="12.0" fill="#1e50f8" fill-opacity="0.3"/><rect x="748.2" y="347.2" width="1" height="18.4" fill="#1e50f8" fill-opacity="0.3"/><rect x="708.5" y="346.9" width="1" height="15.5" fill="#1e50f8" fill-opacity="0.3"/><rect x="703.0" y="331.3" width="1.5" height="11.4" fill="#1e50f8" fill-opacity="0.3"/><rect x="703.1" y="353.9" width="1" height="17.7" fill="#1e50f8" fill-opacity="0.3"/><rect x="765.5" y="340.7" width="1.5" height="12.5" fill="#1e50f8" fill-opacity="0.3"/><rect x="706.2" y="345.7" width="2" height="6.5" fill="#1e50f8" fill-opacity="0.3"/><rect x="705.1" y="342.3" width="1" height="7.6" fill="#1e50f8" fill-opacity="0.3"/><rect x="751.1" y="335.1" width="1.5" height="7.5" fill="#1e50f8" fill-opacity="0.3"/><rect x="406.2" y="281.1" width="1" height="10.5" fill="#1e50f8" fill-opacity="0.2"/><rect x="394.0" y="284.5" width="2" height="15.1" fill="#1e50f8" fill-opacity="0.2"/><rect x="357.3" y="319.9" width="1" height="18.3" fill="#1e50f8" fill-opacity="0.2"/><rect x="403.8" y="333.9" width="2" height="12.5" fill="#1e50f8" fill-opacity="0.2"/><rect x="467.7" y="323.6" width="2" height="12.8" fill="#1e50f8" fill-opacity="0.2"/><rect x="427.2" y="320.0" width="1" height="11.8" fill="#1e50f8" fill-opacity="0.2"/><rect x="356.9" y="307.9" width="2" height="14.8" fill="#1e50f8" fill-opacity="0.2"/><rect x="366.1" y="285.4" width="1" height="16.0" fill="#1e50f8" fill-opacity="0.2"/><rect x="373.2" y="299.2" width="1" height="10.5" fill="#1e50f8" fill-opacity="0.2"/><rect x="368.6" y="321.9" width="1" height="13.8" fill="#1e50f8" fill-opacity="0.2"/><rect x="392.7" y="258.5" width="2" height="19.4" fill="#1e50f8" fill-opacity="0.2"/><rect x="394.3" y="307.3" width="1" height="15.7" fill="#1e50f8" fill-opacity="0.2"/><rect x="468.0" y="322.6" width="1" height="15.9" fill="#1e50f8" fill-opacity="0.2"/><rect x="435.0" y="304.8" width="1" height="19.7" fill="#1e50f8" fill-opacity="0.2"/><rect x="458.6" y="273.7" width="2" height="8.9" fill="#1e50f8" fill-opacity="0.2"/><rect x="472.3" y="285.8" width="1" height="8.5" fill="#1e50f8" fill-opacity="0.2"/><rect x="385.9" y="327.9" width="1" height="17.6" fill="#1e50f8" fill-opacity="0.2"/><rect x="465.5" y="309.0" width="1.5" height="19.5" fill="#1e50f8" fill-opacity="0.2"/><rect x="369.7" y="300.2" width="1.5" height="15.6" fill="#1e50f8" fill-opacity="0.2"/><rect x="436.1" y="276.1" width="2" height="10.9" fill="#1e50f8" fill-opacity="0.2"/><rect x="437.4" y="291.6" width="1" height="13.1" fill="#1e50f8" fill-opacity="0.2"/><rect x="355.4" y="291.8" width="2" height="21.8" fill="#1e50f8" fill-opacity="0.2"/><rect x="450.4" y="292.0" width="1" height="18.5" fill="#1e50f8" fill-opacity="0.2"/><rect x="456.3" y="260.6" width="1.5" height="12.4" fill="#1e50f8" fill-opacity="0.2"/><rect x="408.8" y="293.1" width="1" height="7.5" fill="#1e50f8" fill-opacity="0.2"/><rect x="727.7" y="526.6" width="1.5" height="8.1" fill="#2a60ff" fill-opacity="0.5"/><rect x="741.0" y="511.8" width="2" height="14.2" fill="#2a60ff" fill-opacity="0.5"/><rect x="738.7" y="511.3" width="1" height="18.5" fill="#2a60ff" fill-opacity="0.5"/><rect x="744.9" y="520.9" width="1" height="17.7" fill="#2a60ff" fill-opacity="0.5"/><rect x="729.4" y="514.1" width="1" height="20.2" fill="#2a60ff" fill-opacity="0.5"/><rect x="739.4" y="513.7" width="1.5" height="17.5" fill="#2a60ff" fill-opacity="0.5"/><rect x="738.0" y="516.2" width="1.5" height="10.0" fill="#2a60ff" fill-opacity="0.5"/><rect x="743.3" y="514.6" width="2" height="13.3" fill="#2a60ff" fill-opacity="0.5"/><rect x="730.7" y="519.0" width="1.5" height="10.2" fill="#2a60ff" fill-opacity="0.5"/><rect x="733.7" y="517.6" width="1.5" height="9.2" fill="#2a60ff" fill-opacity="0.5"/><rect x="907.2" y="564.7" width="1.5" height="20.3" fill="#2a60ff" fill-opacity="0.5"/><rect x="897.1" y="571.1" width="1.5" height="14.5" fill="#2a60ff" fill-opacity="0.5"/><rect x="912.4" y="570.0" width="1" height="13.2" fill="#2a60ff" fill-opacity="0.5"/><rect x="899.5" y="573.9" width="1.5" height="14.6" fill="#2a60ff" fill-opacity="0.5"/><rect x="899.8" y="568.2" width="1.5" height="21.8" fill="#2a60ff" fill-opacity="0.5"/><rect x="901.0" y="566.8" width="1" height="7.3" fill="#2a60ff" fill-opacity="0.5"/></g><path d="M104.8,53.1H913.4V680.0H104.8Z" fill="none" stroke="#111" stroke-width="1.6" stroke-linejoin="round"/><path d="M104.8,680.00h6.3M913.4,680.00h-6.3M104.8,653.88h3.0M913.4,653.88h-3.0M104.8,627.76h3.0M913.4,627.76h-3.0M104.8,601.64h3.0M913.4,601.64h-3.0M104.8,575.52h6.3M913.4,575.52h-6.3M104.8,549.40h3.0M913.4,549.40h-3.0M104.8,523.27h3.0M913.4,523.27h-3.0M104.8,497.15h3.0M913.4,497.15h-3.0M104.8,471.03h6.3M913.4,471.03h-6.3M104.8,444.91h3.0M913.4,444.91h-3.0M104.8,418.79h3.0M913.4,418.79h-3.0M104.8,392.67h3.0M913.4,392.67h-3.0M104.8,366.55h6.3M913.4,366.55h-6.3M104.8,340.43h3.0M913.4,340.43h-3.0M104.8,314.31h3.0M913.4,314.31h-3.0M104.8,288.19h3.0M913.4,288.19h-3.0M104.8,262.07h6.3M913.4,262.07h-6.3M104.8,235.95h3.0M913.4,235.95h-3.0M104.8,209.82h3.0M913.4,209.82h-3.0M104.8,183.70h3.0M913.4,183.70h-3.0M104.8,157.58h6.3M913.4,157.58h-6.3M104.8,131.46h3.0M913.4,131.46h-3.0M104.8,105.34h3.0M913.4,105.34h-3.0M104.8,79.22h3.0M913.4,79.22h-3.0M104.8,53.10h6.3M913.4,53.10h-6.3M123.46,680.0v-2.5M123.46,53.1v2.5M145.92,680.0v-2.5M145.92,53.1v2.5M168.38,680.0v-2.5M168.38,53.1v2.5M190.83,680.0v-2.5M190.83,53.1v2.5M213.29,680.0v-2.5M213.29,53.1v2.5M235.75,680.0v-5.0M235.75,53.1v5.0M258.21,680.0v-2.5M258.21,53.1v2.5M280.67,680.0v-2.5M280.67,53.1v2.5M303.12,680.0v-2.5M303.12,53.1v2.5M325.58,680.0v-2.5M325.58,53.1v2.5M348.04,680.0v-2.5M348.04,53.1v2.5M370.50,680.0v-5.0M370.50,53.1v5.0M392.96,680.0v-2.5M392.96,53.1v2.5M415.42,680.0v-2.5M415.42,53.1v2.5M437.88,680.0v-2.5M437.88,53.1v2.5M460.33,680.0v-2.5M460.33,53.1v2.5M482.79,680.0v-2.5M482.79,53.1v2.5M505.25,680.0v-5.0M505.25,53.1v5.0M527.71,680.0v-2.5M527.71,53.1v2.5M550.17,680.0v-2.5M550.17,53.1v2.5M572.62,680.0v-2.5M572.62,53.1v2.5M595.08,680.0v-2.5M595.08,53.1v2.5M617.54,680.0v-2.5M617.54,53.1v2.5M640.00,680.0v-5.0M640.00,53.1v5.0M662.46,680.0v-2.5M662.46,53.1v2.5M684.92,680.0v-2.5M684.92,53.1v2.5M707.38,680.0v-2.5M707.38,53.1v2.5M729.83,680.0v-2.5M729.83,53.1v2.5M752.29,680.0v-2.5M752.29,53.1v2.5M774.75,680.0v-5.0M774.75,53.1v5.0M797.21,680.0v-2.5M797.21,53.1v2.5M819.67,680.0v-2.5M819.67,53.1v2.5M842.12,680.0v-2.5M842.12,53.1v2.5M864.58,680.0v-2.5M864.58,53.1v2.5M887.04,680.0v-2.5M887.04,53.1v2.5M909.50,680.0v-5.0M909.50,53.1v5.0" fill="none" stroke="#000" stroke-width="1.3"/><g font-family="Liberation Sans, sans-serif" font-size="20" fill="#000"><text x="99.5" y="679.60" text-anchor="end">0</text><text x="99.5" y="581.52" text-anchor="end">2</text><text x="99.5" y="477.03" text-anchor="end">4</text><text x="99.5" y="372.55" text-anchor="end">6</text><text x="99.5" y="268.07" text-anchor="end">8</text><text x="99.5" y="163.58" text-anchor="end">10</text><text x="99.5" y="64.80" text-anchor="end">12</text><text x="235.75" y="705" text-anchor="middle">12:30</text><text x="370.50" y="705" text-anchor="middle">13:00</text><text x="505.25" y="705" text-anchor="middle">13:30</text><text x="640.00" y="705" text-anchor="middle">14:00</text><text x="774.75" y="705" text-anchor="middle">14:30</text><text x="909.50" y="705" text-anchor="middle">15:00</text></g><text font-family="Liberation Sans, sans-serif" font-size="20" x="509" y="727" text-anchor="middle">Time UTC</text><text font-family="Liberation Sans, sans-serif" font-size="20" transform="translate(62,364) rotate(-90)" text-anchor="middle">Height km</text><text font-family="Liberation Sans, sans-serif" font-size="20" x="523" y="40" text-anchor="middle" xml:space="preserve">Peak Width RMS   12:01 29.12.2022 - 15:00 29.12.2022 Muenchen</text><defs><linearGradient id="jet" x1="0" y1="1" x2="0" y2="0"><stop offset="0" stop-color="#000080"/><stop offset="0.125" stop-color="#0000ff"/><stop offset="0.375" stop-color="#00ffff"/><stop offset="0.625" stop-color="#ffff00"/><stop offset="0.875" stop-color="#ff0000"/><stop offset="1" stop-color="#800000"/></linearGradient></defs><rect x="923.3" y="128.3" width="25.0" height="476.99999999999994" fill="url(#jet)" stroke="#1a1a1a" stroke-width="1"/><path d="M948.3,605.30h-1.5M948.3,589.40h-1.5M948.3,573.50h-1.5M948.3,557.60h-1.5M948.3,541.70h-1.5M948.3,525.80h-1.5M948.3,509.90h-1.5M948.3,494.00h-1.5M948.3,478.10h-1.5M948.3,462.20h-1.5M948.3,446.30h-1.5M948.3,430.40h-1.5M948.3,414.50h-1.5M948.3,398.60h-1.5M948.3,382.70h-1.5M948.3,366.80h-1.5M948.3,350.90h-1.5M948.3,335.00h-1.5M948.3,319.10h-1.5M948.3,303.20h-1.5M948.3,287.30h-1.5M948.3,271.40h-1.5M948.3,255.50h-1.5M948.3,239.60h-1.5M948.3,223.70h-1.5M948.3,207.80h-1.5M948.3,191.90h-1.5M948.3,176.00h-1.5M948.3,160.10h-1.5M948.3,144.20h-1.5M948.3,128.30h-1.5" stroke="#000" stroke-width="1.2"/><g font-family="Liberation Sans, sans-serif" font-size="20"><text x="953.7" y="140.0">3.0</text><text x="953.7" y="214.2">2.5</text><text x="953.7" y="294.0">2.0</text><text x="953.7" y="373.0">1.5</text><text x="953.7" y="453.4">1.0</text><text x="953.7" y="532.5">0.5</text><text x="953.7" y="605.0">0.0</text></g><text font-family="Liberation Sans, sans-serif" font-size="20" transform="translate(999,367) rotate(-90)" text-anchor="middle">RMS m/s</text></svg></body></html>
